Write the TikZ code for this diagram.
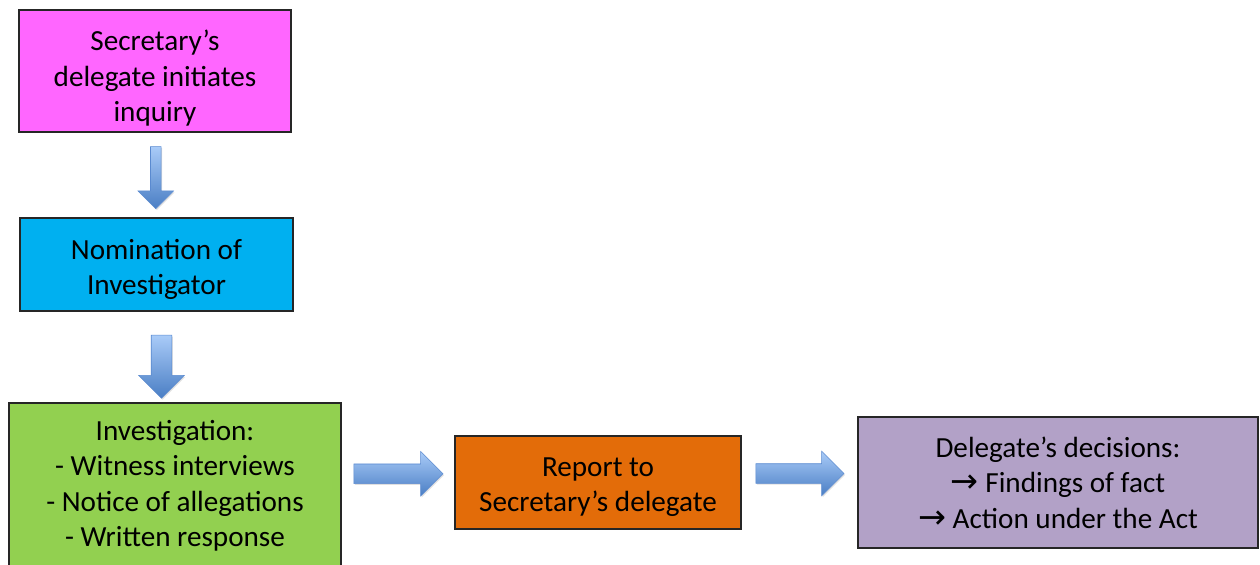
\documentclass[tikz,border=0pt]{standalone}
\usepackage{fontspec}
\setmainfont{Carlito}
\newfontfamily\symfont{DejaVu Sans}
\usepackage{xcolor}
\usetikzlibrary{
  arrows.meta,
  positioning,
  calc,
  shapes.arrows,
  shadows
}
\definecolor{inqmagenta}{HTML}{FF66FF}
\definecolor{nomcyan}{HTML}{00B0F0}
\definecolor{invgreen}{HTML}{92D050}
\definecolor{reporange}{HTML}{E36C09}
\definecolor{decpurple}{HTML}{B2A1C7}
\definecolor{arrowlight}{HTML}{A9CBF8}
\definecolor{arrowdark}{HTML}{4A7EC4}
\definecolor{arrowline}{HTML}{5A8AD0}
\newcommand{\rarr}{{\symfont\fontsize{19}{20.2}\selectfont→}}

\begin{document}
\begin{tikzpicture}[
    font=\fontsize{16.6}{20.2}\selectfont,
    stepbox/.style={
      draw=black!85,
      line width=0.6pt,
      align=center,
      inner sep=2pt
    },
    blockarrow/.style={
      single arrow,
      draw=arrowline,
      line width=0.3pt,
      top color=arrowlight,
      bottom color=arrowdark,
      single arrow head indent=0pt,
      drop shadow={shadow xshift=0.6pt,shadow yshift=-0.8pt,opacity=.25}
    },
    downarrow/.style={
      blockarrow,
      shape border rotate=270,
      inner ysep=0pt
    },
    rightarrow/.style={
      blockarrow,
      inner xsep=0pt
    }
  ]
  \useasboundingbox (0,0) rectangle (25.2,-11.28);
  \clip (0,0) rectangle (25.2,-11.28);

  % ========== Boxes ==========
  \node[stepbox,fill=inqmagenta,minimum width=5.44cm,minimum height=2.44cm]
    (inq) at (3.10,-1.42) {\rule{0pt}{0.7cm}Secretary’s\\delegate initiates\\inquiry};
  \node[stepbox,fill=nomcyan,minimum width=5.46cm,minimum height=1.86cm]
    (nom) at (3.13,-5.29) {\rule{0pt}{0.6cm}Nomination of\\Investigator};
  \node[stepbox,fill=invgreen,minimum width=6.64cm,minimum height=3.32cm]
    (inv) at (3.50,-9.72)
    {Investigation:\\- Witness interviews\\- Notice of allegations\\- Written response};
  \node[stepbox,fill=reporange,minimum width=5.72cm,minimum height=1.86cm]
    (rep) at (11.96,-9.65) {\rule{0pt}{0.56cm}Report to\\Secretary’s delegate};
  \node[stepbox,fill=decpurple,minimum width=8.00cm,minimum height=2.62cm]
    (dec) at (21.16,-9.65)
    {Delegate’s decisions:\\\rarr{} Findings of fact\\\rarr{} Action under the Act};

  % ========== Block arrows ==========
  \path (inq.south) -- (nom.north)
    node[downarrow,pos=.5,inner xsep=0.1cm,
      minimum width=0.7cm,minimum height=1.24cm] (a1) {};
  \path (nom.south) -- (nom.south |- inv.north)
    node[downarrow,pos=.55,xshift=0.1cm,inner xsep=0.2cm,
      minimum width=0.8cm,minimum height=1.26cm] (a2) {};
  \path (inv.east) -- (rep.west)
    node[rightarrow,pos=.5,xshift=-0.09cm,yshift=0.21cm,inner ysep=0.19cm,
      minimum width=0.74cm,minimum height=1.78cm] (a3) {};
  \path (rep.east) -- (dec.west)
    node[rightarrow,pos=.5,xshift=-0.09cm,yshift=0.18cm,inner ysep=0.19cm,
      minimum width=0.74cm,minimum height=1.76cm] (a4) {};
\end{tikzpicture}
\end{document}
